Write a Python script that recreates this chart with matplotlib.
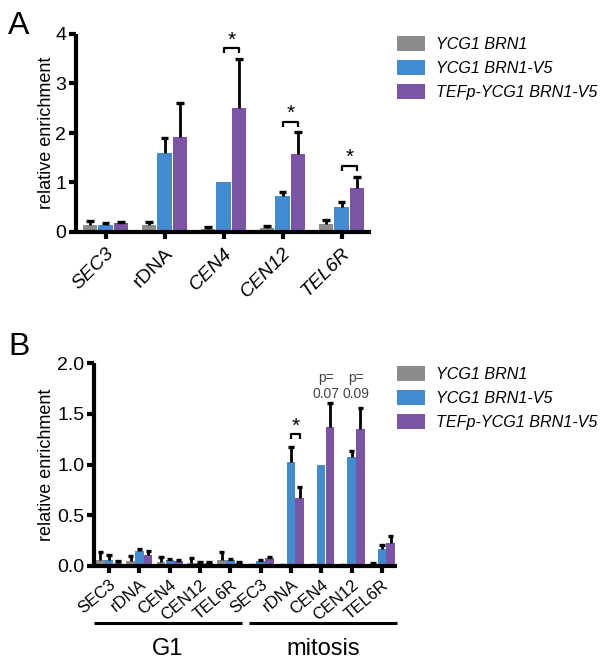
import matplotlib
matplotlib.use("Agg")
import matplotlib.pyplot as plt
import numpy as np

plt.rcParams['font.family'] = ['Liberation Sans', 'DejaVu Sans']

# ---------------- data ----------------
series_labels = ["YCG1 BRN1", "YCG1 BRN1-V5", "TEFp-YCG1 BRN1-V5"]
colors = ["#8c8c8c", "#428bd0", "#7b54a6"]

a_cats = ["SEC3", "rDNA", "CEN4", "CEN12", "TEL6R"]
a_gray = [0.15, 0.15, 0.07, 0.08, 0.17]
a_gray_err = [0.07, 0.05, 0.03, 0.05, 0.08]
a_blue = [0.15, 1.60, 1.02, 0.73, 0.51]
a_blue_err = [0.03, 0.30, 0.0, 0.07, 0.09]
a_purple = [0.18, 1.92, 2.51, 1.57, 0.88]
a_purple_err = [0.03, 0.68, 0.98, 0.45, 0.23]
a_sig = ["CEN4", "CEN12", "TEL6R"]
a_sig_y = [3.72, 2.23, 1.34]

b_cats = ["SEC3", "rDNA", "CEN4", "CEN12", "TEL6R",
          "SEC3", "rDNA", "CEN4", "CEN12", "TEL6R"]
b_gray = [0.06, 0.05, 0.04, 0.03, 0.06, 0.01, 0.005, 0.005, 0.005, 0.02]
b_gray_err = [0.08, 0.05, 0.05, 0.05, 0.08, 0.003, 0.003, 0.003, 0.003, 0.005]
b_blue = [0.06, 0.15, 0.06, 0.03, 0.06, 0.05, 1.02, 1.00, 1.07, 0.17]
b_blue_err = [0.045, 0.015, 0.005, 0.005, 0.005, 0.01, 0.15, 0.0, 0.06, 0.04]
b_purple = [0.03, 0.11, 0.05, 0.03, 0.03, 0.08, 0.67, 1.37, 1.35, 0.23]
b_purple_err = [0.02, 0.04, 0.005, 0.005, 0.005, 0.01, 0.11, 0.24, 0.21, 0.07]
b_sig_idx = [6]
b_sig_y = [1.30]
b_pvals = {7: "p=\n0.07", 8: "p=\n0.09"}
b_groups = ["G1", "mitosis"]

italic_names = {"SEC3", "CEN4", "CEN12", "TEL6R"}

W, H = 602, 662
fig = plt.figure(figsize=(W / 100, H / 100), dpi=100)


def ax_rect(l, r, b, t):
    return [l / W, 1 - b / H, (r - l) / W, (b - t) / H]


def style_axis(ax, lw):
    for s in ["top", "right"]:
        ax.spines[s].set_visible(False)
    for s in ["left", "bottom"]:
        ax.spines[s].set_linewidth(lw)
        ax.spines[s].set_capstyle("butt")
    ax.tick_params(axis="both", width=lw, length=5, color="black")


def draw_bars(ax, n, series, errs, width, step, elw, capw):
    x = np.arange(n)
    handles = []
    for k, (vals, err, col) in enumerate(zip(series, errs, colors)):
        xs = x + (k - 1) * step
        vals = np.asarray(vals)
        err = np.asarray(err)
        h = ax.bar(xs, vals, width=width, color=col, edgecolor="none", zorder=2)
        handles.append(h)
        m = err > 0
        ax.vlines(xs[m], vals[m], vals[m] + err[m], color="black",
                  lw=elw, zorder=3)
        ax.hlines(vals[m] + err[m], xs[m] - capw, xs[m] + capw,
                  color="black", lw=elw + 0.4, zorder=3)
    return handles


def bracket(ax, x0, x1, y, leg, lw, fs):
    ax.plot([x0, x0, x1, x1], [y - leg, y, y, y - leg], color="black",
            lw=lw, zorder=4, solid_capstyle="butt", clip_on=False)
    ax.text((x0 + x1) / 2, y - leg * 0.3, "*", ha="center", va="bottom",
            fontsize=fs, zorder=4)


# ---------------- panel A ----------------
axA = fig.add_axes(ax_rect(76, 371, 232, 34))
stepA = 0.263
hA = draw_bars(axA, len(a_cats), [a_gray, a_blue, a_purple],
               [a_gray_err, a_blue_err, a_purple_err], 0.245, stepA, 2.0, 0.065)
axA.set_xlim(-0.5, len(a_cats) - 0.5)
axA.set_ylim(0, 4)
axA.set_yticks([0, 1, 2, 3, 4])
axA.set_xticks(np.arange(len(a_cats)))
axA.set_xticklabels(a_cats, rotation=45, ha="right", rotation_mode="anchor",
                    fontsize=14)
axA.tick_params(axis="y", labelsize=14, pad=2)
axA.tick_params(axis="x", pad=4)
for lab in axA.get_xticklabels():
    if lab.get_text() in italic_names:
        lab.set_fontstyle("italic")
style_axis(axA, 3)
axA.set_ylabel("relative enrichment", fontsize=13)
axA.yaxis.set_label_coords(-0.072, 0.5)
for name, y in zip(a_sig, a_sig_y):
    i = a_cats.index(name)
    bracket(axA, i, i + stepA, y, 0.1, 1.6, 15)

fig.text(8 / W, 1 - 26 / H, "A", fontsize=23, ha="left", va="center")
fig.legend(hA, series_labels, loc="upper left",
           bbox_to_anchor=(397 / W, 1 - 36 / H), frameon=False,
           prop={"style": "italic", "size": 11.6}, handlelength=1.75,
           handleheight=1.05, handletextpad=0.7, labelspacing=0.5,
           borderpad=0, borderaxespad=0)

# ---------------- panel B ----------------
axB = fig.add_axes(ax_rect(94, 397, 566, 363))
stepB = 0.29
hB = draw_bars(axB, len(b_cats), [b_gray, b_blue, b_purple],
               [b_gray_err, b_blue_err, b_purple_err], 0.28, stepB, 2.0, 0.09)
axB.set_xlim(-0.5, len(b_cats) - 0.5)
axB.set_ylim(0, 2.0)
axB.set_yticks([0, 0.5, 1.0, 1.5, 2.0])
axB.set_yticklabels(["0.0", "0.5", "1.0", "1.5", "2.0"])
axB.set_xticks(np.arange(len(b_cats)))
axB.set_xticklabels(b_cats, rotation=40, ha="right", rotation_mode="anchor",
                    fontsize=12)
axB.tick_params(axis="y", labelsize=14, pad=2)
axB.tick_params(axis="x", pad=3)
style_axis(axB, 3)
axB.set_ylabel("relative enrichment", fontsize=13)
axB.yaxis.set_label_coords(-0.128, 0.5)
for i, y in zip(b_sig_idx, b_sig_y):
    bracket(axB, i, i + stepB, y, 0.05, 1.6, 15)
for i, txt in b_pvals.items():
    axB.text(i + stepB * 0.5, 1.63, txt, ha="center", va="bottom",
             fontsize=10, color="#444444", linespacing=1.1)

# group lines and labels
trans = axB.get_xaxis_transform()
n_half = len(b_cats) // 2
for g, (a0, a1) in enumerate([(-0.5, n_half - 0.5 - 0.13),
                              (n_half - 0.5 + 0.13, len(b_cats) - 0.5)]):
    axB.plot([a0, a1], [-0.28, -0.28], transform=trans, color="black",
             lw=2.2, clip_on=False, solid_capstyle="butt")
    axB.text((a0 + a1) / 2, -0.355, b_groups[g], transform=trans,
             ha="center", va="top", fontsize=17)

fig.text(8 / W, 1 - 347 / H, "B", fontsize=23, ha="left", va="center")
fig.legend(hB, series_labels, loc="upper left",
           bbox_to_anchor=(397 / W, 1 - 366 / H), frameon=False,
           prop={"style": "italic", "size": 11.6}, handlelength=1.75,
           handleheight=1.05, handletextpad=0.7, labelspacing=0.5,
           borderpad=0, borderaxespad=0)

fig.savefig("out.png", dpi=100)
